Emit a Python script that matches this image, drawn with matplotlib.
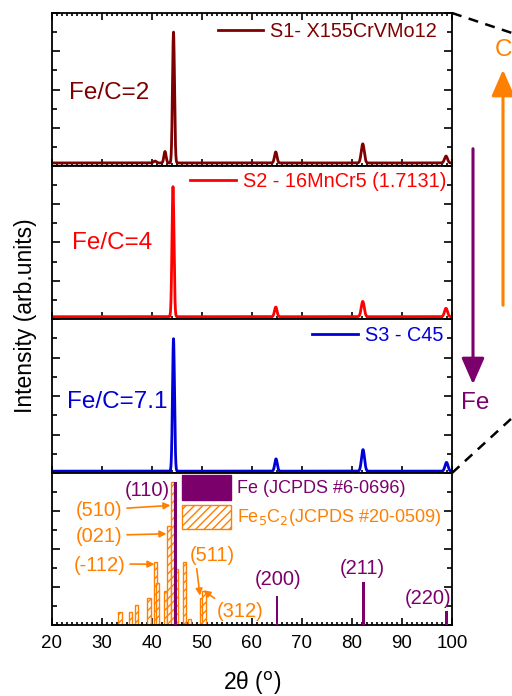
"""XRD patterns of three steels with Fe / Fe5C2 reference lines
"""

import numpy as np
from matplotlib import pyplot
from matplotlib.lines import Line2D
from matplotlib.patches import FancyArrowPatch, Rectangle
from matplotlib.ticker import MultipleLocator

pyplot.rcParams['font.family'] = ['Liberation Sans', 'DejaVu Sans']
pyplot.rcParams['hatch.linewidth'] = 1.0

DARK_RED = '#7f0000'
RED = '#ff0000'
BLUE = '#0000d8'
PURPLE = '#7c006c'
ORANGE = '#ff8000'

# measured patterns: peak position (2θ), height, width (sigma), baseline
S1_POS = [40.6, 42.6, 44.3, 64.75, 82.15, 98.8]
S1_HEIGHT = [0.012, 0.075, 0.855, 0.072, 0.125, 0.045]
S1_WIDTH = [0.3, 0.22, 0.2, 0.25, 0.3, 0.3]
S1_BASE = 0.02

S2_POS = [44.2, 64.75, 82.15, 98.8]
S2_HEIGHT = [0.85, 0.063, 0.1, 0.055]
S2_WIDTH = [0.2, 0.25, 0.3, 0.3]
S2_BASE = 0.015

S3_POS = [44.3, 64.8, 82.2, 98.9]
S3_HEIGHT = [0.86, 0.08, 0.14, 0.057]
S3_WIDTH = [0.2, 0.25, 0.3, 0.3]
S3_BASE = 0.012

# reference lines
FE_POS = [44.7, 65.0, 82.3, 98.9]
FE_INT = [100, 20, 30, 10]
FE_HKL = ['(110)', '(200)', '(211)', '(220)']

FE5C2_POS = [33.6, 35.7, 36.9, 39.4, 40.7, 41.1, 42.7, 43.4, 44.1, 44.9,
             46.5, 47.5, 49.95, 50.4]
FE5C2_INT = [9, 9, 14, 19, 44, 29, 24, 69, 100, 39, 44, 4, 19, 24]

REF_TOP = 106


def profile(x, pos, height, width, base):
    """sum of gaussian peaks on a flat baseline"""
    y = np.full_like(x, base)
    for p, h, s in zip(pos, height, width):
        y += h * np.exp(-(x - p) ** 2 / (2 * s ** 2))
    return y


def style_axes(ax, top_ticks=False, labels=False):
    ax.set_xlim(20, 100)
    ax.xaxis.set_major_locator(MultipleLocator(10))
    ax.xaxis.set_minor_locator(MultipleLocator(1))
    ax.tick_params(axis='x', which='both', direction='in', top=top_ticks,
                   bottom=True, labelbottom=labels, width=1.2)
    ax.tick_params(axis='x', which='major', length=5, labelsize=13.5, pad=7)
    ax.tick_params(axis='x', which='minor', length=2.5)
    ax.tick_params(axis='y', which='both', direction='in', left=True,
                   right=True, labelleft=False, width=1.2)
    ax.tick_params(axis='y', which='major', length=5.8)
    ax.tick_params(axis='y', which='minor', length=3.6)
    for spine in ax.spines.values():
        spine.set_linewidth(1.3)


def pattern_panel(ax, pos, height, width, base, color, name, ratio,
                  leg_anchor, ratio_xy):
    x = np.arange(20, 100.001, 0.02)
    ax.plot(x, profile(x, pos, height, width, base), color=color, lw=2.0,
            label=name)
    ax.set_ylim(0, 1)
    ax.yaxis.set_major_locator(MultipleLocator(0.25))
    ax.yaxis.set_minor_locator(MultipleLocator(0.125))
    ax.legend(loc='upper right', bbox_to_anchor=leg_anchor, frameon=False,
              fontsize=14.3, handlelength=2.3, handletextpad=0.35,
              borderpad=0, borderaxespad=0, labelcolor=color)
    ax.text(ratio_xy[0], ratio_xy[1], ratio, transform=ax.transAxes,
            color=color, fontsize=17.5, ha='left', va='center')


fig = pyplot.figure(figsize=(5.12, 6.96), dpi=100)
W, H = 512, 696
left, width = 52 / W, 400 / W
edges = [13, 166, 319, 473, 625]
axs = []
for top, bottom in zip(edges[:-1], edges[1:]):
    axs.append(fig.add_axes([left, 1 - bottom / H, width, (bottom - top) / H]))

pattern_panel(axs[0], S1_POS, S1_HEIGHT, S1_WIDTH, S1_BASE, DARK_RED,
              'S1- X155CrVMo12', 'Fe/C=2', (0.9625, 0.94), (0.043, 0.477))
pattern_panel(axs[1], S2_POS, S2_HEIGHT, S2_WIDTH, S2_BASE, RED,
              'S2 - 16MnCr5 (1.7131)', 'Fe/C=4', (0.985, 0.961), (0.05, 0.497))
pattern_panel(axs[2], S3_POS, S3_HEIGHT, S3_WIDTH, S3_BASE, BLUE,
              'S3 - C45', 'Fe/C=7.1', (0.9775, 0.954), (0.038, 0.461))

# reference stick pattern
ax = axs[3]
ax.bar(FE5C2_POS, FE5C2_INT, width=0.7, facecolor='white', edgecolor=ORANGE,
       hatch='////', lw=1.0, zorder=2)
ax.bar(FE_POS, FE_INT, width=0.55, color=PURPLE, zorder=3)
ax.set_ylim(0, REF_TOP)
ax.yaxis.set_major_locator(MultipleLocator(REF_TOP / 4))
ax.yaxis.set_minor_locator(MultipleLocator(REF_TOP / 8))

ax.add_patch(Rectangle((0.325, 0.82), 0.1225, 0.165, transform=ax.transAxes,
                       facecolor=PURPLE, edgecolor=PURPLE, clip_on=False))
ax.add_patch(Rectangle((0.325, 0.63), 0.1225, 0.16, transform=ax.transAxes,
                       facecolor='white', edgecolor=ORANGE, hatch='////',
                       lw=1.0, clip_on=False))
ax.text(0.4625, 0.9, 'Fe (JCPDS #6-0696)', transform=ax.transAxes,
        color=PURPLE, fontsize=13, va='center')
ax.text(0.4625, 0.71, 'Fe$_5$C$_2$(JCPDS #20-0509)', transform=ax.transAxes,
        color=ORANGE, fontsize=13, va='center')

fe_label_xy = [(39.1, 93.5), (65.3, 31.8), (82.1, 39.6), (95.3, 18.4)]
for hkl, (tx, ty) in zip(FE_HKL, fe_label_xy):
    ax.text(tx, ty, hkl, color=PURPLE, fontsize=14.5, ha='center', va='center')

arrow = dict(arrowstyle='-|>', color=ORANGE, lw=1.2, mutation_scale=10,
             shrinkA=1, shrinkB=0)
carbide_labels = [
    ('(510)', (43.7, 83.4), (29.5, 80), (1, 0.6)),
    ('(021)', (42.9, 63.6), (29.5, 61.5), (1, 0.6)),
    ('(-112)', (40.5, 42.4), (29.6, 41.2), (1, 0.6)),
    ('(511)', (49.6, 20.5), (52.0, 48.8), (0.15, 0)),
    ('(312)', (50.3, 24.2), (57.7, 9.4), (0.05, 1)),
]
for hkl, xy, xytext, rel in carbide_labels:
    ax.annotate(hkl, xy=xy, xytext=xytext, color=ORANGE, fontsize=14.5,
                ha='center', va='center',
                arrowprops=dict(arrow, relpos=rel))

for i, a in enumerate(axs):
    style_axes(a, top_ticks=(i == 0), labels=(i == 3))

fig.text(26 / W, 1 - 316 / H, 'Intensity (arb.units)', rotation=90,
         fontsize=16.5, ha='center', va='center')
fig.text(252 / W, 1 - 683 / H, '2θ ($^{\\rm o}$)', fontsize=16.5,
         ha='center', va='center')

# zoom lines and composition arrows at the right edge
corner_top = axs[0].get_position()
corner_bot = axs[2].get_position()
fig.add_artist(Line2D([corner_top.x1, 1.0],
                      [corner_top.y1, corner_top.y1 - 20 / H],
                      transform=fig.transFigure, color='black', lw=1.8,
                      ls=(0, (4, 3))))
fig.add_artist(Line2D([corner_bot.x1, 1.0],
                      [corner_bot.y0, corner_bot.y0 + 55 / H],
                      transform=fig.transFigure, color='black', lw=1.8,
                      ls=(0, (4, 3))))
fig.add_artist(FancyArrowPatch((503 / W, 1 - 308 / H), (503 / W, 1 - 67 / H),
                               transform=fig.transFigure, color=ORANGE, lw=2.2,
                               arrowstyle='-|>,head_length=0.8,head_width=0.35',
                               mutation_scale=20))
fig.add_artist(FancyArrowPatch((473 / W, 1 - 146 / H), (473 / W, 1 - 387 / H),
                               transform=fig.transFigure, color=PURPLE, lw=2.2,
                               arrowstyle='-|>,head_length=0.8,head_width=0.35',
                               mutation_scale=20))
fig.text(495 / W, 1 - 50 / H, 'C', color=ORANGE, fontsize=17.5, va='center')
fig.text(475 / W, 1 - 403 / H, 'Fe', color=PURPLE, fontsize=17.5,
         ha='center', va='center')

fig.savefig('out.png', dpi=100)
